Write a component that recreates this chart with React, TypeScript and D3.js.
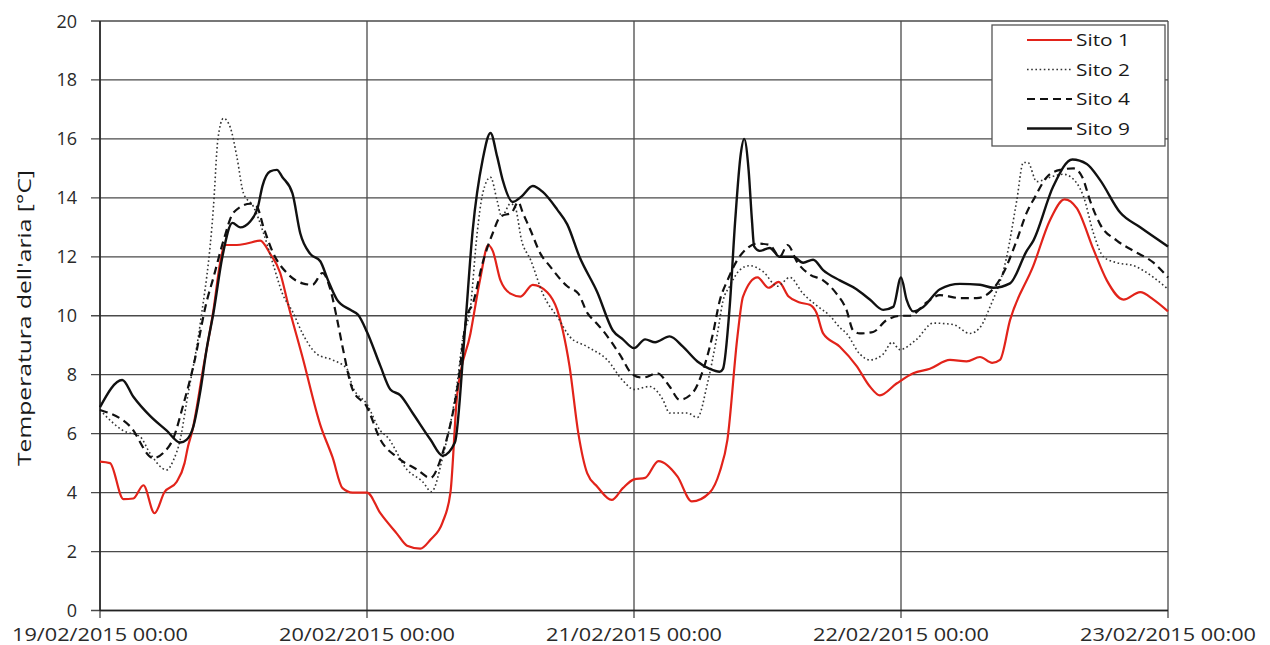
import React from 'react';
import * as d3 from 'd3';

// hours since 19/02/2015 00:00
const xTickHours = [0, 24, 48, 72, 96];
const xTickLabels = ['19/02/2015 00:00', '20/02/2015 00:00', '21/02/2015 00:00', '22/02/2015 00:00', '23/02/2015 00:00'];
const yTicks = [0, 2, 4, 6, 8, 10, 12, 14, 16, 18, 20];
const yTitle = "Temperatura dell'aria [°C]";

const sito1Hours = [0, 0.9, 2.1, 3.0, 3.9, 4.9, 5.8, 6.9, 7.6, 7.9, 8.3, 9.3, 10.2, 10.8, 11.2, 12.3, 13.2, 14.4, 15.3, 16.2, 16.9, 18.2, 19.8, 20.9, 21.8, 22.7, 24.0, 25.2, 26.7, 27.6, 28.8, 29.7, 30.8, 31.5, 32.1, 33.3, 34.2, 34.9, 35.3, 36.0, 36.9, 37.8, 38.9, 40.2, 41.1, 41.6, 42.2, 43.0, 43.8, 44.7, 46.0, 47.0, 48.0, 49.0, 50.2, 51.9, 53.2, 54.8, 55.7, 56.4, 57.3, 57.8, 59.1, 60.1, 61.0, 61.9, 62.9, 63.8, 64.4, 65.0, 66.5, 68.0, 69.2, 70.1, 71.6, 73.1, 74.6, 76.4, 77.9, 79.1, 80.2, 80.9, 81.8, 83.9, 85.4, 86.7, 87.8, 89.3, 90.5, 92.0, 93.5, 94.7, 96.0];
const sito1Temps = [5.05, 5.0, 3.78, 3.8, 4.25, 3.3, 4.02, 4.37, 5.0, 5.55, 6.1, 8.27, 10.2, 11.8, 12.4, 12.4, 12.45, 12.55, 12.1, 11.45, 10.4, 8.6, 6.3, 5.2, 4.15, 4.0, 4.0, 3.3, 2.6, 2.2, 2.1, 2.4, 3.0, 4.0, 7.3, 9.4, 11.3, 12.4, 12.2, 11.2, 10.75, 10.65, 11.05, 10.8, 10.2, 9.5, 8.3, 6.0, 4.65, 4.2, 3.75, 4.15, 4.45, 4.5, 5.07, 4.55, 3.7, 4.0, 4.7, 5.8, 9.3, 10.65, 11.3, 10.95, 11.15, 10.65, 10.45, 10.37, 10.1, 9.4, 8.95, 8.3, 7.6, 7.3, 7.7, 8.05, 8.2, 8.5, 8.45, 8.6, 8.4, 8.5, 9.85, 11.7, 13.25, 13.95, 13.65, 12.25, 11.2, 10.55, 10.8, 10.55, 10.15];

const sito2Hours = [0, 2.1, 3.6, 4.5, 6.0, 6.6, 7.2, 7.8, 9.0, 10.2, 10.6, 11.1, 11.7, 12.3, 12.9, 13.8, 14.7, 15.6, 16.4, 17.3, 18.2, 19.5, 20.9, 22.2, 22.7, 24.0, 25.2, 25.8, 27.6, 29.0, 29.8, 30.8, 32.1, 32.6, 33.3, 33.9, 34.4, 35.1, 35.7, 36.1, 36.9, 37.3, 37.9, 38.7, 39.8, 41.3, 42.2, 43.8, 45.6, 47.0, 48.0, 49.4, 50.6, 51.2, 52.8, 53.7, 54.6, 55.5, 56.0, 56.6, 57.5, 58.4, 59.6, 60.9, 62.0, 63.2, 64.4, 65.6, 66.5, 67.1, 68.3, 69.2, 70.4, 71.2, 71.9, 73.4, 74.9, 76.7, 78.2, 79.1, 80.0, 81.5, 82.4, 83.0, 83.4, 84.2, 85.4, 86.6, 87.8, 88.4, 89.3, 90.2, 91.4, 92.9, 94.7, 96.0];
const sito2Temps = [6.8, 6.1, 5.9, 5.33, 4.77, 5.1, 5.78, 7.1, 9.7, 13.7, 16.0, 16.7, 16.4, 15.4, 14.15, 13.7, 12.8, 11.7, 10.75, 10.15, 9.4, 8.7, 8.5, 8.2, 7.6, 7.0, 6.1, 5.9, 4.78, 4.37, 4.03, 5.2, 7.7, 9.2, 10.3, 12.8, 14.15, 14.7, 13.9, 13.37, 13.8, 13.7, 12.55, 11.9, 10.75, 9.85, 9.3, 8.95, 8.5, 7.8, 7.5, 7.6, 7.15, 6.7, 6.7, 6.55, 7.7, 9.4, 10.5, 11.0, 11.55, 11.7, 11.5, 11.0, 11.3, 10.75, 10.35, 10.0, 9.6, 9.4, 8.7, 8.5, 8.7, 9.1, 8.85, 9.2, 9.75, 9.7, 9.4, 9.6, 10.3, 12.0, 13.9, 15.2, 15.2, 14.55, 14.7, 14.8, 14.5, 14.05, 12.8, 12.0, 11.8, 11.7, 11.3, 10.9];

const sito4Hours = [0, 2.7, 4.8, 5.7, 6.6, 7.5, 8.4, 9.6, 10.2, 11.1, 12.0, 13.5, 14.1, 14.7, 15.6, 16.8, 18.2, 19.1, 20.0, 20.7, 21.3, 21.8, 22.7, 24.0, 25.2, 26.7, 28.5, 29.7, 30.8, 32.1, 33.0, 33.5, 34.4, 35.3, 36.0, 37.0, 37.6, 38.0, 38.7, 39.6, 40.4, 42.0, 43.0, 43.8, 44.5, 45.2, 46.7, 47.9, 48.8, 50.1, 51.2, 52.1, 53.3, 54.2, 55.1, 55.7, 56.4, 57.3, 58.2, 59.1, 60.2, 61.1, 61.8, 62.7, 63.8, 65.0, 66.2, 67.1, 67.7, 68.3, 69.5, 70.7, 72.1, 72.8, 74.3, 75.5, 77.3, 78.8, 80.0, 81.2, 82.4, 83.3, 84.0, 85.1, 86.3, 87.5, 88.3, 89.0, 89.9, 91.4, 92.9, 94.7, 96.0];
const sito4Temps = [6.8, 6.25, 5.17, 5.35, 5.85, 7.0, 8.3, 10.5, 11.3, 12.55, 13.5, 13.8, 13.7, 13.0, 12.1, 11.45, 11.1, 11.05, 11.45, 10.9, 9.9, 8.95, 7.5, 6.9, 5.8, 5.2, 4.78, 4.5, 5.35, 7.5, 10.0, 10.4, 11.8, 12.8, 13.37, 13.5, 13.86, 13.5, 12.9, 12.1, 11.7, 11.0, 10.75, 10.1, 9.8, 9.5, 8.7, 8.0, 7.9, 8.05, 7.6, 7.15, 7.4, 8.15, 9.4, 10.5, 11.2, 11.9, 12.3, 12.45, 12.4, 12.0, 12.4, 11.8, 11.4, 11.2, 10.75, 10.2, 9.5, 9.4, 9.45, 9.85, 10.0, 10.0, 10.45, 10.7, 10.6, 10.6, 10.8, 11.45, 12.55, 13.5, 14.0, 14.7, 14.95, 15.0, 14.7, 13.9, 13.1, 12.55, 12.2, 11.8, 11.3];

const sito9Hours = [0, 2.0, 3.0, 4.5, 6.0, 7.2, 7.8, 8.4, 9.0, 9.6, 10.2, 11.0, 11.9, 12.6, 13.5, 14.2, 14.6, 15.3, 15.9, 16.4, 17.3, 18.0, 18.9, 19.8, 20.5, 21.3, 22.5, 23.2, 24.0, 25.2, 26.1, 27.0, 28.1, 29.7, 30.8, 31.9, 32.8, 33.5, 34.4, 35.1, 35.7, 36.2, 37.1, 37.9, 38.9, 39.8, 41.1, 42.0, 43.1, 44.7, 46.1, 47.0, 48.0, 49.0, 49.9, 51.2, 52.4, 53.7, 54.8, 55.7, 56.0, 56.6, 57.1, 57.6, 57.9, 58.3, 58.6, 58.8, 59.3, 60.2, 61.1, 62.3, 63.2, 64.1, 65.0, 66.5, 68.0, 69.2, 70.4, 71.3, 72.0, 72.5, 73.1, 74.0, 75.5, 77.3, 79.1, 80.3, 81.8, 83.3, 83.9, 85.7, 87.4, 88.7, 89.9, 91.7, 93.5, 96.0];
const sito9Temps = [6.9, 7.82, 7.25, 6.6, 6.1, 5.7, 5.8, 6.25, 7.4, 8.9, 10.1, 12.0, 13.15, 13.0, 13.2, 13.7, 14.4, 14.9, 14.95, 14.7, 14.15, 12.8, 12.1, 11.85, 11.2, 10.55, 10.2, 10.03, 9.45, 8.3, 7.5, 7.3, 6.7, 5.8, 5.25, 5.7, 9.5, 12.9, 15.3, 16.2, 15.4, 14.6, 13.86, 14.05, 14.4, 14.2, 13.6, 13.1, 12.0, 10.8, 9.5, 9.2, 8.9, 9.2, 9.1, 9.3, 8.95, 8.45, 8.2, 8.1, 8.2, 10.3, 13.25, 15.5, 16.0, 14.95, 13.25, 12.35, 12.2, 12.3, 12.0, 12.0, 11.8, 11.9, 11.55, 11.2, 10.9, 10.55, 10.2, 10.3, 11.3, 10.55, 10.15, 10.3, 10.9, 11.08, 11.05, 10.95, 11.1, 12.2, 12.55, 14.4, 15.3, 15.15, 14.6, 13.5, 13.0, 12.35];

const seriesNames = ['Sito 1', 'Sito 2', 'Sito 4', 'Sito 9'];

const W = 1270, H = 645;
const x = d3.scaleLinear().domain([0, 96]).range([100, 1168]);
const y = d3.scaleLinear().domain([0, 20]).range([610.5, 21]);

const styles = [
  { stroke: '#e2231a', width: 2.2, dash: undefined },
  { stroke: '#333', width: 1.6, dash: '1.6,2.6' },
  { stroke: '#111', width: 2.2, dash: '8,5' },
  { stroke: '#111', width: 2.4, dash: undefined },
];

const zip = (hs: number[], ts: number[]) => hs.map((h, i) => [h, ts[i]] as [number, number]);
const data = [zip(sito1Hours, sito1Temps), zip(sito2Hours, sito2Temps), zip(sito4Hours, sito4Temps), zip(sito9Hours, sito9Temps)];

const line = d3.line<[number, number]>().x(d => x(d[0])).y(d => y(d[1])).curve(d3.curveMonotoneX);

export default function App() {
  const gridColor = '#4a4a4a';
  const textColor = '#2a2a2a';
  const font = "'Open Sans', sans-serif";
  return (
    <svg width={W} height={H} style={{ position: 'absolute', left: 0, top: 0, background: '#fff' }}>
      <rect x={0} y={0} width={W} height={H} fill="#fff" />
      {yTicks.map(t => (
        <g key={'y' + t}>
          <line x1={91} x2={1168} y1={y(t)} y2={y(t)} stroke={gridColor} strokeWidth={1.3} />
          <text x={77} y={y(t) + 6.5} textAnchor="end" fontFamily={font} fontSize={18} fill={textColor}>{t}</text>
        </g>
      ))}
      {xTickHours.map((h, i) => (
        <g key={'x' + h}>
          <line x1={x(h)} x2={x(h)} y1={21} y2={618} stroke={gridColor} strokeWidth={1.3} />
          <text x={x(h)} y={641} textAnchor="middle" fontFamily={font} fontSize={17.5} fill={textColor}
            textLength={176} lengthAdjust="spacingAndGlyphs">{xTickLabels[i]}</text>
        </g>
      ))}
      <line x1={100} x2={100} y1={21} y2={611} stroke="#222" strokeWidth={1.5} />
      <line x1={100} x2={1168} y1={610.5} y2={610.5} stroke="#222" strokeWidth={1.5} />
      <text transform={`translate(31,318) rotate(-90)`} textAnchor="middle" fontFamily={font} fontSize={17.5}
        fill="#1a1a1a" textLength={296} lengthAdjust="spacingAndGlyphs">{yTitle}</text>
      {data.map((d, i) => (
        <path key={seriesNames[i]} d={line(d) || ''} fill="none" stroke={styles[i].stroke}
          strokeWidth={styles[i].width} strokeDasharray={styles[i].dash} strokeLinejoin="round" />
      ))}
      <g>
        <rect x={992} y={25} width={173} height={121} fill="#fff" stroke="#555" strokeWidth={1.3} />
        {seriesNames.map((n, i) => {
          const ly = 40 + i * 29.5;
          return (
            <g key={'leg' + n}>
              <line x1={1027} x2={1072} y1={ly} y2={ly} stroke={styles[i].stroke} strokeWidth={styles[i].width}
                strokeDasharray={styles[i].dash} />
              <text x={1076} y={ly + 6} fontFamily={font} fontSize={16.5} fill="#1a1a1a"
                textLength={54} lengthAdjust="spacingAndGlyphs">{n}</text>
            </g>
          );
        })}
      </g>
    </svg>
  );
}
